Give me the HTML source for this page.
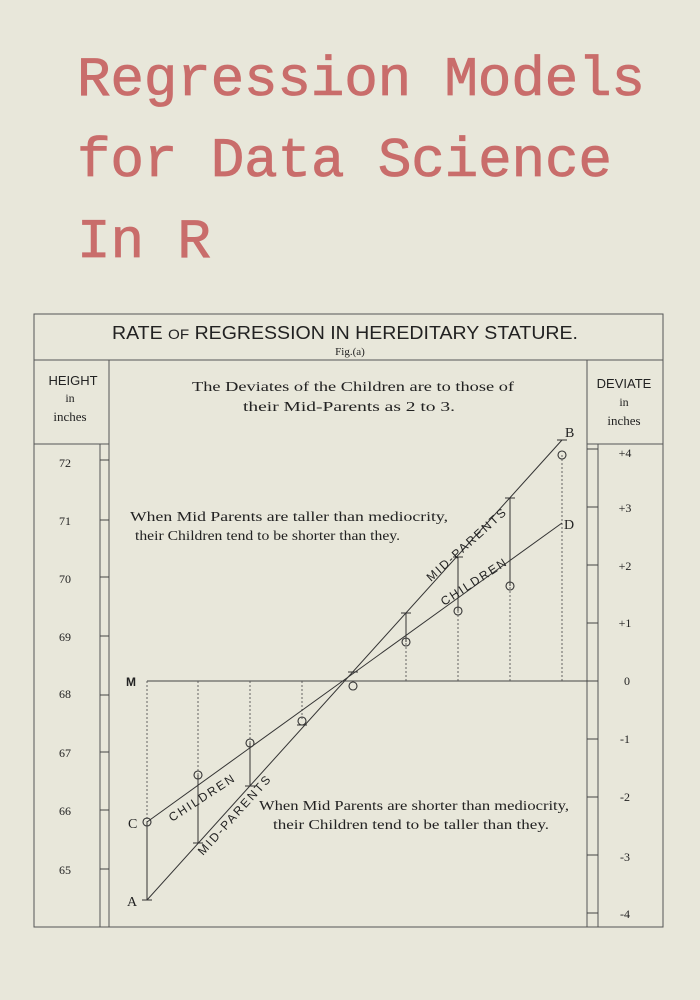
<!DOCTYPE html>
<html><head><meta charset="utf-8"><style>
html,body{margin:0;padding:0;background:#e8e7da;}
svg{display:block}
</style></head><body>
<svg width="700" height="1000" viewBox="0 0 700 1000" xmlns="http://www.w3.org/2000/svg">
<rect width="700" height="1000" fill="#e8e7da"/>
<g font-family="Liberation Mono, monospace" font-size="56" fill="#c96d6b" stroke="#c96d6b" stroke-width="0.8">
<text x="77" y="95" textLength="568" lengthAdjust="spacing">Regression Models</text>
<text x="77" y="176" textLength="535" lengthAdjust="spacing">for Data Science</text>
<text x="77" y="257" textLength="134" lengthAdjust="spacing">In R</text>
</g>
<g stroke="#555" stroke-width="1" fill="none">
<rect x="34" y="314" width="629" height="613"/>
<line x1="34" y1="360" x2="663" y2="360"/>
<line x1="109" y1="360" x2="109" y2="927"/>
<line x1="100" y1="444" x2="100" y2="927"/>
<line x1="34" y1="444" x2="109" y2="444"/>
<line x1="587" y1="360" x2="587" y2="927"/>
<line x1="598" y1="444" x2="598" y2="927"/>
<line x1="587" y1="444" x2="663" y2="444"/>
</g>
<g stroke="#444" stroke-width="1">
<line x1="100" y1="460" x2="109" y2="460"/><line x1="100" y1="520" x2="109" y2="520"/>
<line x1="100" y1="577" x2="109" y2="577"/><line x1="100" y1="636" x2="109" y2="636"/>
<line x1="100" y1="695" x2="109" y2="695"/><line x1="100" y1="752" x2="109" y2="752"/>
<line x1="100" y1="810" x2="109" y2="810"/><line x1="100" y1="869" x2="109" y2="869"/>
<line x1="587" y1="449" x2="598" y2="449"/><line x1="587" y1="507" x2="598" y2="507"/>
<line x1="587" y1="565" x2="598" y2="565"/><line x1="587" y1="623" x2="598" y2="623"/>
<line x1="587" y1="739" x2="598" y2="739"/><line x1="587" y1="797" x2="598" y2="797"/>
<line x1="587" y1="855" x2="598" y2="855"/><line x1="587" y1="913" x2="598" y2="913"/>
<line x1="147" y1="681" x2="598" y2="681"/>
</g>
<g font-family="Liberation Sans, sans-serif" fill="#222">
<text x="112" y="339" font-size="18" textLength="466" lengthAdjust="spacingAndGlyphs">RATE <tspan font-size="14">OF</tspan> REGRESSION IN HEREDITARY STATURE.</text>
<text x="73" y="385" font-size="13" text-anchor="middle">HEIGHT</text>
<text x="624" y="388" font-size="13" text-anchor="middle">DEVIATE</text>
<text x="126" y="686" font-size="12" font-weight="bold">M</text>
</g>
<g font-family="Liberation Serif, serif" fill="#222">
<text x="350" y="355" font-size="11" text-anchor="middle">Fig.(a)</text>
<text x="70" y="402" font-size="12" text-anchor="middle">in</text>
<text x="70" y="421" font-size="13" text-anchor="middle">inches</text>
<text x="624" y="406" font-size="12" text-anchor="middle">in</text>
<text x="624" y="425" font-size="13" text-anchor="middle">inches</text>
<text x="192" y="391" font-size="14" textLength="322" lengthAdjust="spacingAndGlyphs">The Deviates of the Children are to those of</text>
<text x="243" y="411" font-size="14" textLength="212" lengthAdjust="spacingAndGlyphs">their Mid-Parents as  2 to 3.</text>
<text x="130" y="521" font-size="14" textLength="318" lengthAdjust="spacingAndGlyphs">When Mid Parents are taller than mediocrity,</text>
<text x="135" y="540" font-size="14" textLength="265" lengthAdjust="spacingAndGlyphs">their Children tend to be shorter than they.</text>
<text x="259" y="810" font-size="14" textLength="310" lengthAdjust="spacingAndGlyphs">When Mid Parents are shorter than mediocrity,</text>
<text x="273" y="829" font-size="14" textLength="276" lengthAdjust="spacingAndGlyphs">their Children tend to be taller than they.</text>
<g font-size="12" text-anchor="middle">
<text x="65" y="467">72</text><text x="65" y="525">71</text><text x="65" y="583">70</text><text x="65" y="641">69</text>
<text x="65" y="698">68</text><text x="65" y="757">67</text><text x="65" y="815">66</text><text x="65" y="874">65</text>
<text x="625" y="457">+4</text><text x="625" y="512">+3</text><text x="625" y="570">+2</text><text x="625" y="627">+1</text>
<text x="627" y="685">0</text><text x="625" y="743">-1</text><text x="625" y="801">-2</text><text x="625" y="861">-3</text><text x="625" y="918">-4</text>
</g>
<g font-size="14"><text x="128" y="828">C</text><text x="127" y="906">A</text><text x="565" y="437">B</text><text x="564" y="529">D</text></g>
</g>
<g stroke="#555" stroke-width="0.9" stroke-dasharray="2,2" fill="none">
<line x1="147" y1="681" x2="147" y2="822"/>
<line x1="198" y1="681" x2="198" y2="775"/>
<line x1="250" y1="681" x2="250" y2="743"/>
<line x1="302" y1="681" x2="302" y2="720"/>
<line x1="406" y1="681" x2="406" y2="642"/>
<line x1="458" y1="681" x2="458" y2="611"/>
<line x1="510" y1="681" x2="510" y2="586"/>
<line x1="562" y1="681" x2="562" y2="455"/>
</g>
<g stroke="#333" stroke-width="1" fill="none">
<line x1="147" y1="900" x2="562" y2="440"/>
<line x1="147" y1="822" x2="562" y2="523"/>
<line x1="147" y1="822" x2="147" y2="900"/>
<line x1="198" y1="775" x2="198" y2="843"/>
<line x1="250" y1="743" x2="250" y2="786"/>
<line x1="406" y1="613" x2="406" y2="642"/>
<line x1="458" y1="557" x2="458" y2="611"/>
<line x1="510" y1="498" x2="510" y2="586"/>
<g stroke-width="1.1">
<circle cx="147" cy="822" r="4"/><circle cx="198" cy="775" r="4"/><circle cx="250" cy="743" r="4"/>
<circle cx="302" cy="721" r="4"/><circle cx="353" cy="686" r="4"/><circle cx="406" cy="642" r="4"/>
<circle cx="458" cy="611" r="4"/><circle cx="510" cy="586" r="4"/><circle cx="562" cy="455" r="4"/>
</g>
<line x1="142" y1="900" x2="152" y2="900"/><line x1="193" y1="843" x2="203" y2="843"/>
<line x1="245" y1="786" x2="255" y2="786"/><line x1="297" y1="725" x2="307" y2="725"/>
<line x1="348" y1="672" x2="358" y2="672"/><line x1="401" y1="613" x2="411" y2="613"/>
<line x1="453" y1="557" x2="463" y2="557"/><line x1="505" y1="498" x2="515" y2="498"/>
<line x1="557" y1="440" x2="567" y2="440"/>
</g>
<g font-family="Liberation Sans, sans-serif" font-size="12" fill="#222" letter-spacing="2">
<text transform="translate(172,822) rotate(-33)">CHILDREN</text>
<text transform="translate(203,856) rotate(-48)">MID-PARENTS</text>
<text transform="translate(431,582) rotate(-42)">MID-PARENTS</text>
<text transform="translate(444,606) rotate(-33)">CHILDREN</text>
</g>
</svg>
</body></html>
